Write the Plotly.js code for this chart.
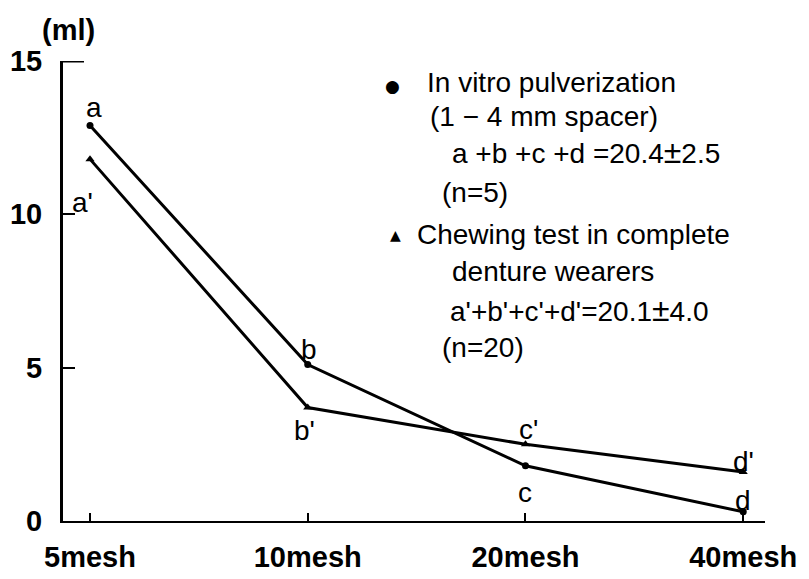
<!DOCTYPE html>
<html>
<head>
<meta charset="utf-8">
<script src="https://cdn.plot.ly/plotly-3.0.1.min.js"></script>
<style>html,body{margin:0;padding:0;background:#fff;}#chart{width:809px;height:579px;}</style>
</head>
<body>
<div id="chart"></div>
<script>
// ---- data ----
const categories = ['5mesh', '10mesh', '20mesh', '40mesh'];
const inVitro = [12.9, 5.1, 1.8, 0.3];          // a, b, c, d
const chewing = [11.8, 3.7, 2.5, 1.6];          // a', b', c', d'
const inVitroLabels = ['a', 'b', 'c', 'd'];
const chewingLabels = ["a'", "b'", "c'", "d'"];
const yTicks = [0, 5, 10, 15];
const legendLines = [
  'In vitro pulverization',
  '(1 \u2212 4 mm spacer)',
  'a +b +c +d =20.4<span style="font-size:32px">\u00B1</span>2.5',
  '(n=5)',
  'Chewing test in complete',
  'denture wearers',
  "a'+b'+c'+d'=20.1<span style=\"font-size:32px\">\u00B1</span>4.0",
  '(n=20)'
];

// ---- layout helpers (pixel -> paper) ----
const L = 63, R = 765, T = 61, B = 521;
const px = x => (x - L) / (R - L);
const py = y => (B - y) / (B - T);

const FONT = 'Liberation Sans, Arial, sans-serif';

const traces = [
  {x: categories, y: inVitro, type: 'scatter', mode: 'lines+markers',
   line: {color: '#000', width: 3}, marker: {symbol: 'circle', size: 7, color: '#000'},
   showlegend: false, cliponaxis: false},
  {x: categories, y: chewing, type: 'scatter', mode: 'lines+markers',
   line: {color: '#000', width: 3}, marker: {symbol: 'triangle-up', size: 8, color: '#000'},
   showlegend: false, cliponaxis: false}
];

const annotations = [];
// point labels
const shiftA = [[4, 18], [1, 15], [0, -27], [0, 11]];
const shiftB = [[-8, -43], [-3, -23], [3, 15], [0, 10]];
inVitroLabels.forEach((t, i) => annotations.push({
  x: categories[i], y: inVitro[i], xref: 'x', yref: 'y', text: t, showarrow: false,
  xshift: shiftA[i][0], yshift: shiftA[i][1], font: {family: FONT, size: 28, color: '#000'}
}));
chewingLabels.forEach((t, i) => annotations.push({
  x: categories[i], y: chewing[i], xref: 'x', yref: 'y', text: t, showarrow: false,
  xshift: shiftB[i][0], yshift: shiftB[i][1], font: {family: FONT, size: 28, color: '#000'}
}));
// unit label
annotations.push({x: px(68), y: py(30), xref: 'paper', yref: 'paper', text: '(ml)',
  showarrow: false, xanchor: 'center', yanchor: 'middle',
  font: {family: FONT, size: 29, color: '#000', weight: 'bold'}});
// legend text
const legPos = [[425, 83], [428, 117], [450, 152], [440, 192], [415, 234], [450, 271], [448, 310], [440, 347]];
legendLines.forEach((t, i) => annotations.push({
  x: px(legPos[i][0]), y: py(legPos[i][1]), xref: 'paper', yref: 'paper', text: t,
  showarrow: false, xanchor: 'left', yanchor: 'middle',
  font: {family: FONT, size: 28, color: '#000'}
}));
annotations.push({x: px(392), y: py(86), xref: 'paper', yref: 'paper', text: '\u25CF',
  showarrow: false, xanchor: 'center', yanchor: 'middle', font: {family: 'DejaVu Sans', size: 17, color: '#000'}});
annotations.push({x: px(395), y: py(235), xref: 'paper', yref: 'paper', text: '\u25B2',
  showarrow: false, xanchor: 'center', yanchor: 'middle', font: {family: 'DejaVu Sans', size: 14, color: '#000'}});

const layout = {
  width: 809, height: 579,
  margin: {l: L, r: 809 - R, t: T, b: 579 - B, pad: 0},
  paper_bgcolor: '#fff', plot_bgcolor: '#fff',
  showlegend: false,
  xaxis: {
    type: 'category', range: [-0.124, 3.1], showgrid: false, zeroline: false,
    showline: true, linecolor: '#000', linewidth: 2,
    ticks: 'inside', ticklen: 8, tickwidth: 2, tickcolor: '#000',
    ticklabelstandoff: 9,
    tickfont: {family: FONT, size: 29, color: '#000', weight: 'bold'}
  },
  yaxis: {
    range: [0, 15], tickvals: yTicks, ticktext: yTicks.map(String),
    showgrid: false, zeroline: false,
    showline: true, linecolor: '#000', linewidth: 3,
    ticks: 'inside', ticklen: 12, tickwidth: 2, tickcolor: '#000',
    ticklabelstandoff: 12,
    tickfont: {family: FONT, size: 29, color: '#000', weight: 'bold'}
  },
  shapes: [
    {type: 'line', xref: 'paper', yref: 'y', x0: 0, x1: px(84), y0: 15, y1: 15,
     line: {color: '#000', width: 3}}
  ],
  annotations: annotations
};

Plotly.newPlot('chart', traces, layout, {displayModeBar: false, staticPlot: true});
</script>
</body>
</html>
